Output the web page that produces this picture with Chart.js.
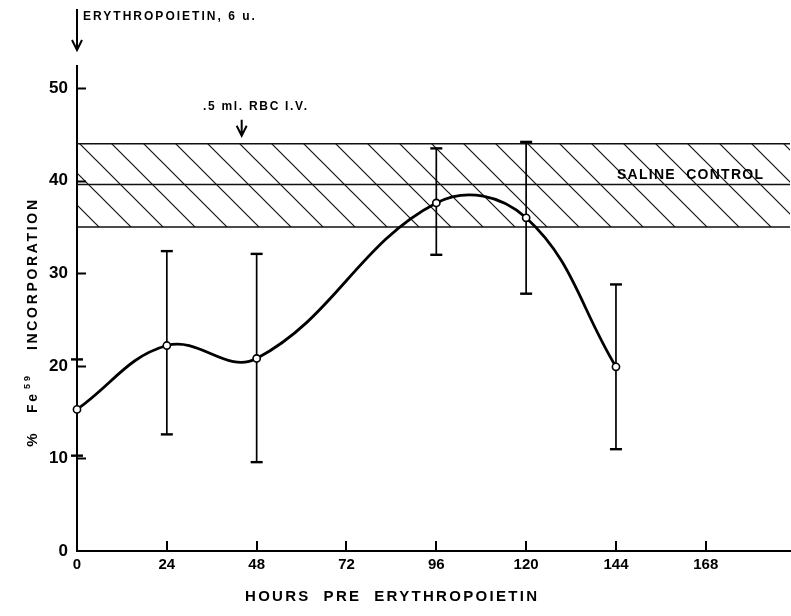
<!DOCTYPE html>
<html>
<head>
<meta charset="utf-8">
<script src="https://cdn.jsdelivr.net/npm/chart.js@4.4.1/dist/chart.umd.min.js"></script>
<style>
  html, body { margin: 0; padding: 0; background: #fff; }
  #wrap { width: 791px; height: 616px; }
</style>
</head>
<body>
<div id="wrap"><canvas id="fechart" width="791" height="616"></canvas></div>
<script>
// data
var hours = [0, 24, 48, 96, 120, 144];
var incorporation = [15.3, 22.2, 20.8, 37.6, 36.0, 19.9];
var errLow = [10.3, 12.6, 9.6, 32.0, 27.8, 11.0];
var errHigh = [20.7, 32.4, 32.1, 43.5, 44.2, 28.8];
var xTicks = [0, 24, 48, 72, 96, 120, 144, 168];
var yTicks = [0, 10, 20, 30, 40, 50];
var salineHigh = 44.0;
var salineMean = 39.6;
var salineLow = 35.0;
var xMax = 190.5;
var yMax = 52.4;

var FONT = '"Liberation Sans", Arial, sans-serif';

// diagonal hatch for the saline band
function hatch() {
    var s = 32;
    var c = document.createElement('canvas');
    c.width = s; c.height = s;
    var g = c.getContext('2d');
    g.strokeStyle = '#111';
    g.lineWidth = 1.2;
    g.beginPath();
    g.moveTo(-2, -2); g.lineTo(s + 2, s + 2);
    g.moveTo(-2, s - 2); g.lineTo(2, s + 2);
    g.moveTo(s - 2, -2); g.lineTo(s + 2, 2);
    g.stroke();
    return g.createPattern(c, 'repeat');
}

// draw text stretched with letter spacing to a given width, starting at x
function spaced(c, text, x, y, width) {
    c.letterSpacing = '0px';
    var w = c.measureText(text).width;
    var sp = Math.max(0, (width - w) / (text.length - 1));
    c.letterSpacing = sp.toFixed(2) + 'px';
    c.textAlign = 'left';
    c.fillText(text, x, y);
}

var ctx = document.getElementById('fechart').getContext('2d');

var datasets = [
    {
        data: [{x: 0, y: salineHigh}, {x: xMax, y: salineHigh}],
        borderColor: '#111', borderWidth: 1.6, pointRadius: 0,
        backgroundColor: hatch(), fill: '+1', order: 3
    },
    {
        data: [{x: 0, y: salineLow}, {x: xMax, y: salineLow}],
        borderColor: '#111', borderWidth: 1.6, pointRadius: 0, fill: false, order: 3
    },
    {
        data: [{x: 0, y: salineMean}, {x: xMax, y: salineMean}],
        borderColor: '#111', borderWidth: 1.4, pointRadius: 0, fill: false, order: 3
    },
    {
        data: hours.map(function (h, i) { return {x: h, y: incorporation[i]}; }),
        borderColor: '#000', borderWidth: 2.8, tension: 0.4,
        pointRadius: 3.6, pointBackgroundColor: '#fff', pointBorderColor: '#000',
        pointBorderWidth: 1.6, fill: false, clip: false, order: 0
    }
];

hours.forEach(function (h, i) {
    datasets.push({
        data: [{x: h, y: errLow[i]}, {x: h, y: errHigh[i]}],
        borderColor: '#000', borderWidth: 1.7,
        pointStyle: 'line', pointRadius: 6, pointBorderWidth: 2.4,
        pointBorderColor: '#000', fill: false, clip: false, order: 1
    });
});

// inner tick marks, axis titles and the notes
var extras = {
    id: 'extras',
    afterDraw: function (chart) {
        var c = chart.ctx, x = chart.scales.x, y = chart.scales.y, a = chart.chartArea;
        c.save();
        c.strokeStyle = '#000';
        c.fillStyle = '#000';
        c.lineWidth = 2;
        c.beginPath();
        yTicks.slice(1).forEach(function (v) {
            var py = Math.round(y.getPixelForValue(v)) + 0.5;
            c.moveTo(a.left, py); c.lineTo(a.left + 9, py);
        });
        xTicks.slice(1).forEach(function (v) {
            var px = Math.round(x.getPixelForValue(v));
            c.moveTo(px, a.bottom); c.lineTo(px, a.bottom - 10);
        });
        c.stroke();

        function arrow(px, y0, y1) {
            c.lineWidth = 2;
            c.beginPath();
            c.moveTo(px, y0); c.lineTo(px, y1);
            c.moveTo(px - 5, y1 - 10); c.lineTo(px, y1); c.lineTo(px + 5, y1 - 10);
            c.stroke();
        }
        c.textBaseline = 'middle';

        // erythropoietin injection
        var x0 = x.getPixelForValue(0);
        arrow(x0, 9, 50);
        c.font = 'bold 12px ' + FONT;
        spaced(c, 'ERYTHROPOIETIN, 6 u.', x0 + 6, 17, 172);

        // red cell transfusion
        var xr = x.getPixelForValue(44);
        var yb = y.getPixelForValue(salineHigh);
        arrow(xr, yb - 24, yb - 8);
        c.font = 'bold 12px ' + FONT;
        spaced(c, '.5 ml. RBC I.V.', 203, 107, 104);

        c.font = 'bold 14px ' + FONT;
        spaced(c, 'SALINE  CONTROL', 617, 175, 146);

        // axis titles
        c.font = 'bold 15px ' + FONT;
        spaced(c, 'HOURS  PRE  ERYTHROPOIETIN', 245, 597, 292);

        c.translate(33, 0);
        c.rotate(-Math.PI / 2);
        c.font = 'bold 14px ' + FONT;
        spaced(c, 'INCORPORATION', -350, 0, 150);
        spaced(c, 'Fe', -413, 0, 19);
        c.font = 'bold 9px ' + FONT;
        spaced(c, '59', -389, -5, 13);
        c.font = 'bold 15px ' + FONT;
        c.letterSpacing = '0px';
        c.textAlign = 'center';
        c.fillText('%', -440, 0);
        c.restore();
    }
};

var fechart = new Chart(ctx, {
    type: 'line',
    data: { datasets: datasets },
    options: {
        responsive: false,
        animation: false,
        layout: { autoPadding: false, padding: { top: 66, right: 1, left: 0, bottom: 0 } },
        plugins: {
            legend: { display: false },
            tooltip: { enabled: false }
        },
        scales: {
            x: {
                type: 'linear',
                min: 0,
                max: xMax,
                afterFit: function (scale) {
                    scale.height = 65;
                    scale.paddingRight = 0;
                    scale.paddingLeft = 0;
                },
                afterBuildTicks: function (scale) {
                    scale.ticks = xTicks.map(function (v) { return {value: v}; });
                },
                ticks: { color: '#000', padding: 5, font: { family: FONT, size: 15, weight: 'bold' } },
                grid: { drawOnChartArea: false, drawTicks: false },
                border: { color: '#000', width: 2 }
            },
            y: {
                min: 0,
                max: yMax,
                afterFit: function (scale) { scale.width = 77; },
                afterBuildTicks: function (scale) {
                    scale.ticks = yTicks.map(function (v) { return {value: v}; });
                },
                ticks: { color: '#000', padding: 9, font: { family: FONT, size: 17, weight: 'bold' } },
                grid: { drawOnChartArea: false, drawTicks: false },
                border: { color: '#000', width: 2 }
            }
        }
    },
    plugins: [extras]
});
</script>
</body>
</html>
